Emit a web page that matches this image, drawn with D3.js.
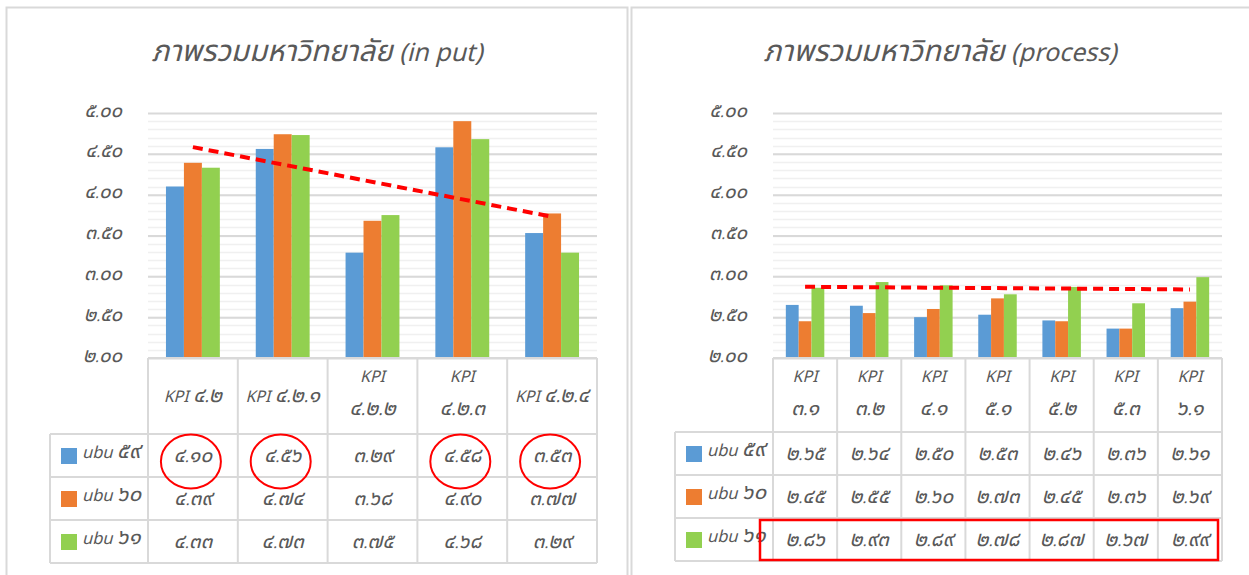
<!DOCTYPE html>
<html>
<head>
<meta charset="utf-8">
<script src="https://cdn.jsdelivr.net/npm/d3@7/dist/d3.min.js"></script>
<style>
body { margin: 0; background: #fff; }
svg { display: block; }
text { font-family: "Noto Sans Thai", "Noto Sans", "DejaVu Sans", sans-serif; fill: #595959; font-style: italic; }
</style>
</head>
<body>
<svg id="chart" width="1249" height="575"></svg>
<script>
// series names and colours
var seriesNames = ['ubu 59', 'ubu 60', 'ubu 61'];
var seriesColors = ['#5B9BD5', '#ED7D31', '#92D050'];

// left chart (in put)
var inputTitle = 'ภาพรวมมหาวิทยาลัย (in put)';
var inputCats = [['KPI 4.2'], ['KPI 4.2.1'], ['KPI', '4.2.2'], ['KPI', '4.2.3'], ['KPI 4.2.4']];
var input59 = [4.10, 4.56, 3.29, 4.58, 3.53];
var input60 = [4.39, 4.74, 3.68, 4.90, 3.77];
var input61 = [4.33, 4.73, 3.75, 4.68, 3.29];
var inputCircled = [0, 1, 3, 4];

// right chart (process)
var processTitle = 'ภาพรวมมหาวิทยาลัย (process)';
var processCats = [['KPI', '3.1'], ['KPI', '3.2'], ['KPI', '4.1'], ['KPI', '5.1'], ['KPI', '5.2'], ['KPI', '5.3'], ['KPI', '6.1']];
var process59 = [2.65, 2.64, 2.50, 2.53, 2.46, 2.36, 2.61];
var process60 = [2.45, 2.55, 2.60, 2.73, 2.45, 2.36, 2.69];
var process61 = [2.86, 2.93, 2.89, 2.78, 2.87, 2.67, 2.99];

var yTicks = [2.0, 2.5, 3.0, 3.5, 4.0, 4.5, 5.0];

// convert arabic digits to thai digits
function thai(s) {
	return String(s).replace(/[0-9]/g, function(c) {
		return '๐๑๒๓๔๕๖๗๘๙'[+c];
	});
}

// write text with thai runs in a bigger size (thai glyphs of the fallback font run small)
function mixedText(sel, str, base, scale) {
	sel.text(null);
	str.split(/([\u0E00-\u0E7F]+)/).forEach(function(part) {
		if (!part) return;
		var isThai = /[\u0E00-\u0E7F]/.test(part);
		sel.append('tspan').style('font-size', (isThai ? base * scale : base) + 'px').text(part);
	});
	return sel;
}

var svg = d3.select('#chart');

// panel frames
svg.append('rect').attr('x', 6.5).attr('y', 7.5).attr('width', 621).attr('height', 580)
		.style('fill', 'none').style('stroke', '#d9d9d9').style('stroke-width', 2);
svg.append('rect').attr('x', 631.5).attr('y', 7.5).attr('width', 630).attr('height', 580)
		.style('fill', 'none').style('stroke', '#d9d9d9').style('stroke-width', 2);

// draw one chart panel
function drawPanel(opt) {
	var g = svg.append('g');
	var series = opt.series;
	var n = opt.cats.length;

	var x = d3.scaleBand().domain(d3.range(n)).range([opt.x0, opt.x1]);
	var y = d3.scaleLinear().domain([2, 5]).range([358, 113]);
	var xs = d3.scaleBand().domain(d3.range(series.length))
			.range([x.bandwidth() * 0.2, x.bandwidth() * 0.8]);

	// title
	mixedText(g.append('text').attr('x', opt.cx).attr('y', 61).attr('text-anchor', 'middle'),
			opt.title, 25, 1.18);

	// minor gridlines
	g.selectAll('.minor').data(d3.range(2.1, 5.0, 0.1)).enter().append('line')
			.attr('x1', opt.x0).attr('x2', opt.x1)
			.attr('y1', function(d) { return Math.round(y(d)) + 0.5; })
			.attr('y2', function(d) { return Math.round(y(d)) + 0.5; })
			.style('stroke', '#f0f0f0').style('stroke-width', 1.5);

	// major gridlines via axis
	var axis = d3.axisLeft(y).tickValues(yTicks).tickSize(-(opt.x1 - opt.x0))
			.tickFormat(function(d) { return thai(d.toFixed(2)); });
	var ag = g.append('g').attr('transform', 'translate(' + opt.x0 + ',0)').call(axis);
	ag.select('.domain').remove();
	ag.selectAll('.tick line').style('stroke', '#d9d9d9').style('stroke-width', 2);
	ag.selectAll('.tick text').attr('x', -26).attr('dy', '0.3em').style('fill', '#595959')
			.each(function(d) { mixedText(d3.select(this), thai(d.toFixed(2)), 14, 1.45); });

	// bars
	series.forEach(function(vals, si) {
		g.selectAll('.bar' + si).data(vals).enter().append('rect')
				.attr('x', function(d, i) { return x(i) + xs(si); })
				.attr('width', xs.bandwidth())
				.attr('y', function(d) { return y(d); })
				.attr('height', function(d) { return y(2) - y(d); })
				.style('fill', seriesColors[si]);
	});

	// linear trendline of last series
	var last = series[series.length - 1];
	var reg = d3.range(n).map(function(i) { return [i, last[i]]; });
	var mx = d3.mean(reg, function(d) { return d[0]; });
	var my = d3.mean(reg, function(d) { return d[1]; });
	var slope = d3.sum(reg, function(d) { return (d[0] - mx) * (d[1] - my); })
			/ d3.sum(reg, function(d) { return (d[0] - mx) * (d[0] - mx); });
	var ends = [0, n - 1].map(function(i) { return [i, my + slope * (i - mx)]; });
	g.append('line')
			.attr('x1', x(0) + x.bandwidth() / 2).attr('y1', y(ends[0][1]))
			.attr('x2', x(n - 1) + x.bandwidth() / 2).attr('y2', y(ends[1][1]))
			.style('stroke', '#ff0000').style('stroke-width', 4)
			.style('stroke-dasharray', '10,6');

	// data table
	var top = 358, headH = opt.headH, rowH = 43;
	var tb = g.append('g');
	var lineStyle = function(sel) {
		return sel.style('stroke', '#d9d9d9').style('stroke-width', 2);
	};
	// vertical lines of category columns
	d3.range(n + 1).forEach(function(i) {
		var xv = i < n ? x(i) : opt.x1;
		lineStyle(tb.append('line').attr('x1', xv).attr('x2', xv)
				.attr('y1', top).attr('y2', top + headH + 3 * rowH));
	});
	lineStyle(tb.append('line').attr('x1', opt.x0).attr('x2', opt.x1).attr('y1', top).attr('y2', top));
	// horizontal row lines incl legend column
	d3.range(4).forEach(function(r) {
		var yv = top + headH + r * rowH;
		lineStyle(tb.append('line').attr('x1', opt.lx).attr('x2', opt.x1).attr('y1', yv).attr('y2', yv));
	});
	lineStyle(tb.append('line').attr('x1', opt.lx).attr('x2', opt.lx)
			.attr('y1', top + headH).attr('y2', top + headH + 3 * rowH));

	// header labels
	opt.cats.forEach(function(c, i) {
		var cx = x(i) + x.bandwidth() / 2;
		var ys = c.length === 1 ? [top + headH / 2 + 6] : [top + 24, top + 57];
		c.forEach(function(t, k) {
			mixedText(tb.append('text').attr('x', cx).attr('y', ys[k]).attr('text-anchor', 'middle'),
					thai(t), 16, 1.35);
		});
	});

	// legend and values
	series.forEach(function(vals, si) {
		var ry = top + headH + si * rowH;
		tb.append('rect').attr('x', opt.lx + 11).attr('y', ry + 14).attr('width', 16).attr('height', 16)
				.style('fill', seriesColors[si]);
		mixedText(tb.append('text').attr('x', opt.lx + 32).attr('y', ry + 24),
				thai(seriesNames[si]), 16.5, 1.35);
		tb.selectAll('.v' + si).data(vals).enter().append('text')
				.attr('x', function(d, i) { return x(i) + x.bandwidth() / 2; })
				.attr('y', ry + 28).attr('text-anchor', 'middle')
				.each(function(d) { mixedText(d3.select(this), thai(d.toFixed(2)), 15, 1.4); });
	});

	return { x: x, top: top, headH: headH, rowH: rowH };
}

var left = drawPanel({
	title: inputTitle, cats: inputCats, series: [input59, input60, input61],
	x0: 148, x1: 597, cx: 317, lx: 50, headH: 76
});
var right = drawPanel({
	title: processTitle, cats: processCats, series: [process59, process60, process61],
	x0: 773, x1: 1222, cx: 940, lx: 675, headH: 74
});

// red annotations
svg.selectAll('.circ').data(inputCircled).enter().append('ellipse')
		.attr('cx', function(i) { return left.x(i) + left.x.bandwidth() / 2 - 2; })
		.attr('cy', left.top + left.headH + left.rowH / 2 + 6)
		.attr('rx', 30).attr('ry', 27)
		.style('fill', 'none').style('stroke', '#ff0000').style('stroke-width', 2);

var ry61 = right.top + right.headH + 2 * right.rowH;
svg.append('rect').attr('x', 760).attr('y', ry61 + 2)
		.attr('width', right.x(process61.length - 1) + right.x.bandwidth() - 4 - 760)
		.attr('height', 40)
		.style('fill', 'none').style('stroke', '#ff0000').style('stroke-width', 2.5);
</script>
</body>
</html>
